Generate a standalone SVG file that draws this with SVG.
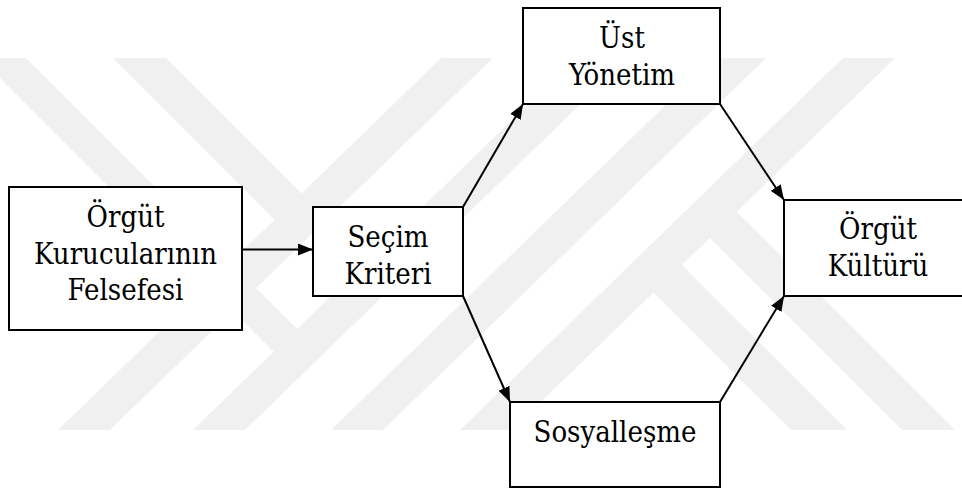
<svg xmlns="http://www.w3.org/2000/svg" width="962" height="491" viewBox="0 0 962 491">
  <style>
    .wm { fill: #f0f0f0; stroke: none; }
    .box { fill: #ffffff; stroke: #000000; stroke-width: 2; }
    .lbl { font-family: "DejaVu Serif Condensed", "DejaVu Serif", serif; font-stretch: condensed; font-size: 29px; fill: #000000; text-anchor: middle; }
    .edge { fill: none; stroke: #000000; stroke-width: 2; marker-end: url(#arrow); }
  </style>
  <defs>
    <marker id="arrow" viewBox="0 0 15 12" refX="15" refY="6" markerWidth="15" markerHeight="12" markerUnits="userSpaceOnUse" orient="auto">
      <path d="M0,0 L15,6 L0,12 Z" fill="#000000"/>
    </marker>
  </defs>
  <rect width="962" height="491" fill="#ffffff"/>
  <g id="watermark">
    <polygon class="wm" points="441,58 493,58 110,430 58,430"/>
    <polygon class="wm" points="576,58 628,58 245,430 193,430"/>
    <polygon class="wm" points="714,58 766,58 383,430 331,430"/>
    <polygon class="wm" points="843,58 895,58 512,430 460,430"/>
    <polygon class="wm" points="-20,58 26,58 296.8,328.8 300.2,378.2"/>
    <polygon class="wm" points="113,58 166,58 301.4,193.4 300.7,245.7"/>
    <polygon class="wm" points="684.2,212.2 736.7,211.7 955,430 902,430"/>
    <polygon class="wm" points="627.8,266.8 681.9,264.9 847,430 791,430"/>
  </g>
  <g id="connectors">
    <line class="edge" x1="242" y1="249.5" x2="313" y2="249.5"/>
    <line class="edge" x1="463" y1="207" x2="523" y2="104"/>
    <line class="edge" x1="720" y1="104" x2="784" y2="200"/>
    <line class="edge" x1="463" y1="296" x2="510" y2="402"/>
    <line class="edge" x1="720" y1="402" x2="784" y2="296"/>
  </g>
  <g id="node-kurucular">
    <rect class="box" x="9" y="187" width="233" height="143"/>
    <text class="lbl" x="125.5" y="227">Örgüt</text>
    <text class="lbl" x="125.5" y="263.5">Kurucularının</text>
    <text class="lbl" x="125.5" y="300">Felsefesi</text>
  </g>
  <g id="node-secim">
    <rect class="box" x="313" y="207" width="150" height="89"/>
    <text class="lbl" x="388" y="247">Seçim</text>
    <text class="lbl" x="388" y="283.5">Kriteri</text>
  </g>
  <g id="node-ust">
    <rect class="box" x="523" y="8" width="197" height="96"/>
    <text class="lbl" x="622" y="48">Üst</text>
    <text class="lbl" x="622" y="85">Yönetim</text>
  </g>
  <g id="node-kultur">
    <rect class="box" x="784" y="200" width="190" height="96"/>
    <text class="lbl" x="878" y="239">Örgüt</text>
    <text class="lbl" x="878" y="276">Kültürü</text>
  </g>
  <g id="node-sosyal">
    <rect class="box" x="510" y="402" width="210" height="85"/>
    <text class="lbl" x="615" y="442">Sosyalleşme</text>
  </g>
</svg>
